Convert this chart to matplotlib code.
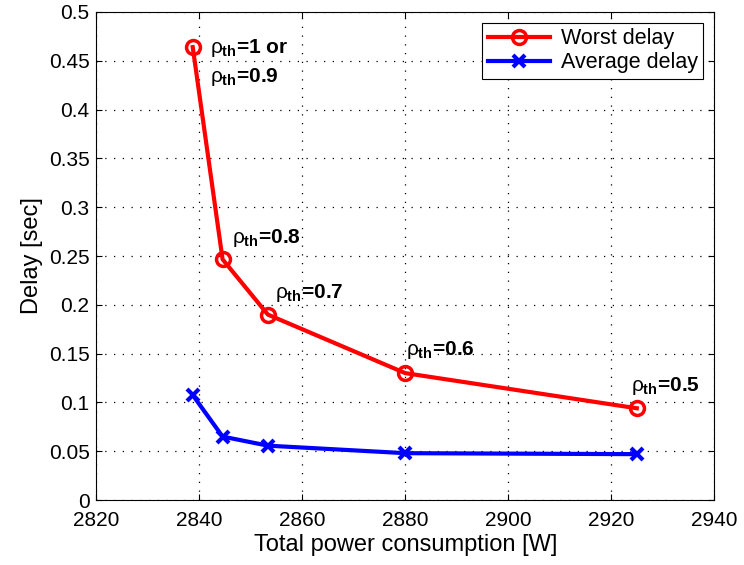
import matplotlib
matplotlib.use("Agg")
import matplotlib.pyplot as plt

power = [2838.7, 2844.5, 2853.3, 2880, 2925]
worst_delay = [0.464, 0.2466, 0.19, 0.130, 0.094]
avg_delay = [0.1075, 0.065, 0.0557, 0.048, 0.047]
labels = ["=1 or", "=0.9", "=0.8", "=0.7", "=0.6", "=0.5"]
label_pos = [(2842.0, 0.458), (2842.0, 0.4286), (2846.3, 0.263),
             (2854.7, 0.2067), (2880.2, 0.1486), (2923.9, 0.112)]
xticks = [2820, 2840, 2860, 2880, 2900, 2920, 2940]
yticks = [0, 0.05, 0.1, 0.15, 0.2, 0.25, 0.3, 0.35, 0.4, 0.45, 0.5]

plt.rcParams['font.family'] = ['Liberation Sans', 'DejaVu Sans']
plt.rcParams['mathtext.fontset'] = 'custom'
plt.rcParams['mathtext.rm'] = 'Liberation Sans'
plt.rcParams['mathtext.it'] = 'Liberation Sans'
plt.rcParams['mathtext.bf'] = 'Liberation Sans:bold'

fig = plt.figure(figsize=(7.44, 5.65), dpi=100)
ax = fig.add_axes([0.1297, 0.115, 0.83, 0.8638])

ax.plot(power, worst_delay, color='#ff0000', lw=3, marker='o', ms=10,
        mfc='none', mew=2.5, label='Worst delay')
ax.plot(power, avg_delay, color='#0000ff', lw=3, marker='x', ms=9,
        mew=3, label='Average delay')

for txt, (x, y) in zip(labels, label_pos):
    ax.text(x, y, r'$\rho_{\mathbf{th}}$' + txt, fontsize=15, fontweight='bold',
            va='baseline', ha='left')

ax.set_xlim(2820, 2940)
ax.set_ylim(0, 0.5)
ax.set_xticks(xticks)
ax.set_yticks(yticks)
ax.set_yticklabels([f"{v:g}" for v in yticks])
ax.tick_params(direction='in', top=True, right=True, labelsize=15, length=4)
ax.tick_params(axis='x', pad=8)
ax.tick_params(axis='y', pad=5)
ax.grid(True, color='black', linestyle=(0, (1, 6)), lw=0.9)
ax.set_xlabel('Total power consumption [W]', fontsize=17, labelpad=3)
ax.set_ylabel('Delay [sec]', fontsize=17, labelpad=4)

leg = ax.legend(loc='upper right', fontsize=15.5, fancybox=False, framealpha=1,
                edgecolor='black', borderaxespad=0.5, handlelength=2.9,
                borderpad=0.25, labelspacing=0.15, handletextpad=0.5)
leg.get_frame().set_linewidth(0.8)

fig.savefig('out.png', dpi=100)
